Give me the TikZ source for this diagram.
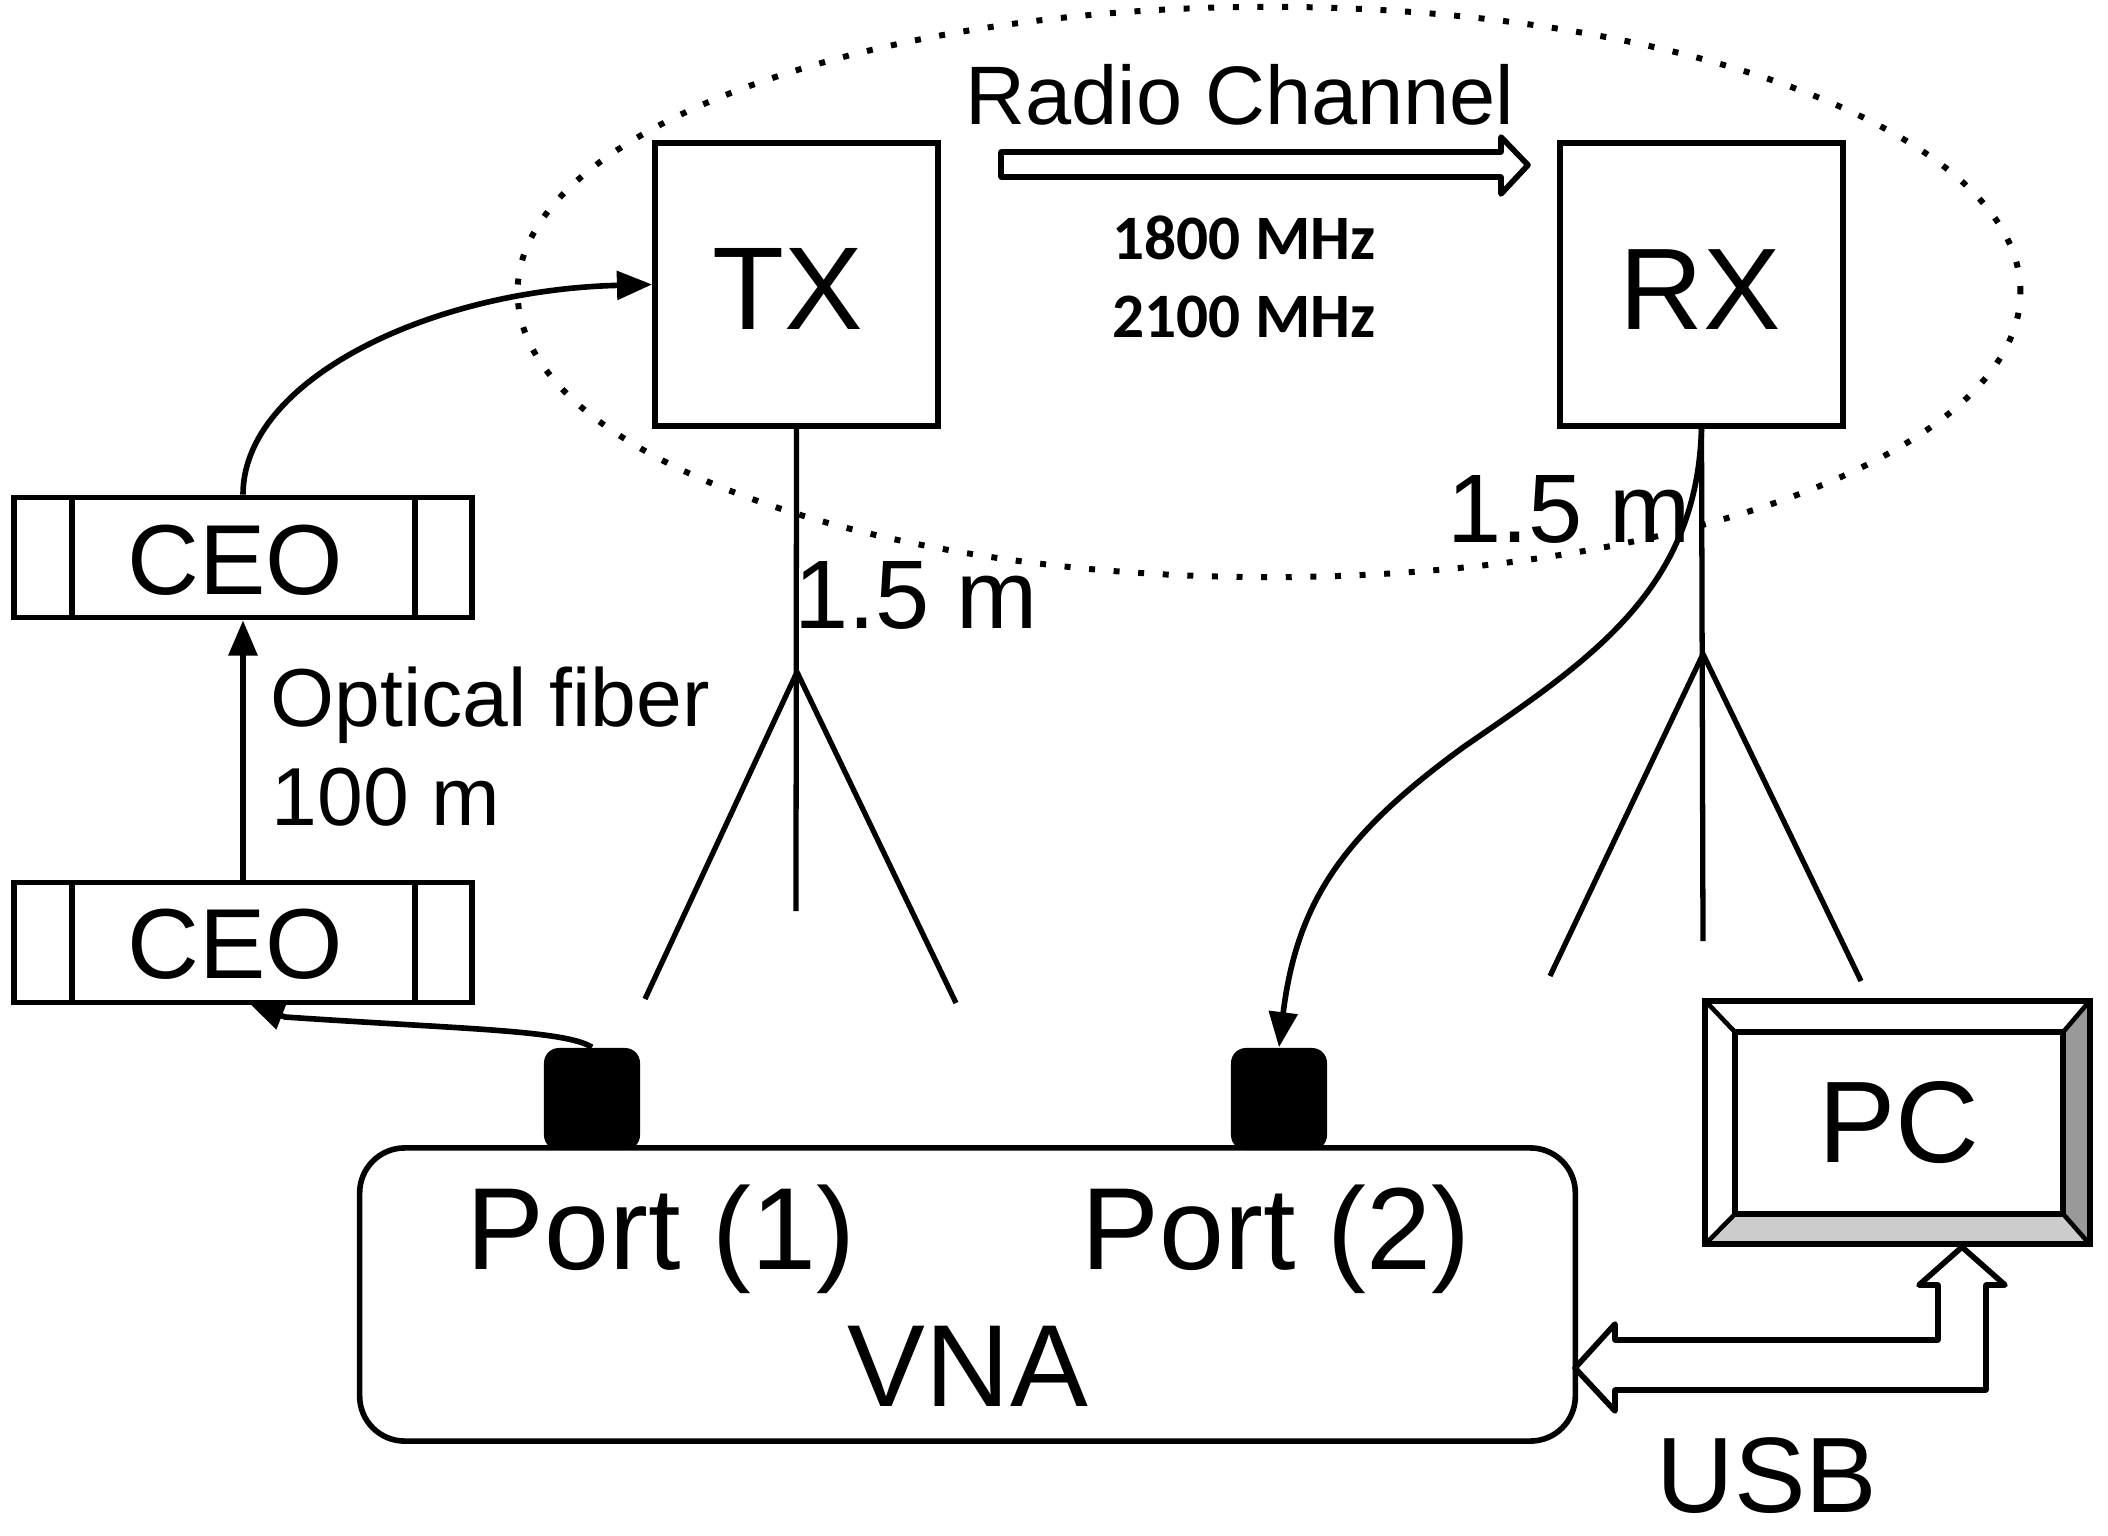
\documentclass[tikz,border=0pt]{standalone}
\usepackage{fontspec}
\setmainfont{Liberation Sans}
\newfontfamily\bandfont{Carlito}
\usetikzlibrary{arrows.meta,positioning,shapes.geometric}
\definecolor{RigInk}{HTML}{000000}
\definecolor{RigDark}{HTML}{999999}
\definecolor{RigLight}{HTML}{CCCCCC}
\tikzset{
  rig/box/.style={
    draw=RigInk, line width=1.6pt, inner sep=0pt
  },
  rig/antenna/.style={rig/box, minimum width=2.83cm, minimum height=2.83cm},
  rig/ceo/.style={rig/box, minimum width=4.58cm, minimum height=1.2cm},
  rig/port/.style={fill=RigInk, inner sep=0pt, rounded corners=.15cm,
    minimum width=.96cm, minimum height=1.02cm},
  rig/label/.style={anchor=base, inner sep=0pt},
  rig/arrow/.style={
    -{Triangle[length=10pt,width=8pt]}, line width=1.6pt, draw=RigInk
  },
  rig/leg/.style={line width=1.5pt, draw=RigInk},
  rig/hollow/.style={line width=1.6pt, draw=RigInk, fill=white, line join=round}
}
\begin{document}
\begin{tikzpicture}[x=.01cm,y=-.01cm]
  \useasboundingbox (0,0) rectangle (2108,1536);
  \node[ellipse,draw=RigInk,line width=1.7pt,
    dash pattern=on 1.7pt off 5.3pt,inner sep=0pt,
    minimum width=15.02cm,minimum height=5.7cm] (zone) at (1269,292) {};
  \node[rig/antenna] (tx) at (796.5,284.5) {};
  \node[rig/antenna] (rx) at (1701.5,284.5) {};
  \node[rig/label,font=\fontsize{33.5}{37}\selectfont] (txtext) at (788,329) {TX};
  \node[rig/label,font=\fontsize{33}{36}\selectfont] (rxtext) at (1700,329) {RX};
  \node[rig/ceo] (ceotop) at (243,557.5) {};
  \node[rig/ceo] (ceobottom) at (243,942.5) {};
  \foreach \ceo in {ceotop,ceobottom} {
    \draw[line width=1.6pt] ([xshift=.61cm]\ceo.north west) -- ([xshift=.61cm]\ceo.south west);
    \draw[line width=1.6pt] ([xshift=-.6cm]\ceo.north east) -- ([xshift=-.6cm]\ceo.south east);
  }
  \node[rig/label,font=\fontsize{28.3}{31}\selectfont] (ceotoptext) at (235,594) {CEO};
  \node[rig/label,font=\fontsize{28.3}{31}\selectfont] (ceobottomtext) at (235,978) {CEO};
  \draw[rig/arrow] (ceobottom.north) -- (ceotop.south);
  \draw[rig/arrow] (ceotop.north) .. controls (243,380) and (430,290) .. (tx.west);
  \node[rig/label,anchor=base west,font=\fontsize{23.4}{26}\selectfont] (fibertext) at (270,726) {Optical fiber};
  \node[rig/label,anchor=base west,font=\fontsize{23.4}{26}\selectfont] (lengthtext) at (271,825) {100 m};

  \node[rig/box,rounded corners=.45cm,minimum width=12.15cm,minimum height=2.93cm] (vna) at (967.5,1294.5) {};
  \node[rig/port] (portone) at (592,1099) {};
  \node[rig/port] (porttwo) at (1279,1099) {};
  \node[rig/label,font=\fontsize{33.2}{36}\selectfont] (portonetext) at (661,1269) {Port (1)};
  \node[rig/label,font=\fontsize{33.2}{36}\selectfont] (porttwotext) at (1276,1269) {Port (2)};
  \node[rig/label,font=\fontsize{33.2}{36}\selectfont] (vnatext) at (968,1406) {VNA};
  \draw[rig/arrow] (portone.north) .. controls (565,1030) and (460,1029) .. (285,1017) -- (249,1003);
  \draw[rig/arrow] (rx.south) .. controls (1697,590) and (1590,660) .. (1465,746)
    .. controls (1345,833) and (1297,900) .. (porttwo.north);

  \coordinate (txapex) at (797,672);
  \coordinate (rxapex) at (1703,654);
  \draw[rig/leg] (tx.south) -- (796,911);
  \draw[rig/leg] (rx.south) -- (1703,941);
  \draw[rig/leg] (645,999) -- (txapex) -- (956,1003);
  \draw[rig/leg] (1550,976) -- (rxapex) -- (1861,981);
  \node[rig/label,font=\fontsize{27.7}{31}\selectfont] (txheight) at (916,628) {1.5 m};
  \node[rig/label,font=\fontsize{27.7}{31}\selectfont] (rxheight) at (1569,542) {1.5 m};

  \node[minimum width=3.83cm,minimum height=2.42cm,inner sep=0pt] (pcframe) at (1897.5,1122.5) {};
  \node[minimum width=3.28cm,minimum height=1.82cm,inner sep=0pt] (pcinner) at (1899,1123) {};
  \fill[RigDark] (pcframe.north east) -- (pcinner.north east) -- (pcinner.south east) -- (pcframe.south east) -- cycle;
  \fill[RigLight] (pcframe.south west) -- (pcinner.south west) -- (pcinner.south east) -- (pcframe.south east) -- cycle;
  \foreach \corner in {north west,north east,south west,south east}
    \draw[line width=1.3pt] (pcframe.\corner) -- (pcinner.\corner);
  \draw[line width=1.7pt] (pcframe.north west) rectangle (pcframe.south east);
  \node[rig/box,minimum width=3.28cm,minimum height=1.82cm,font=\fontsize{33}{36}\selectfont] (pc) at (1899,1123) {PC};

  \coordinate (usbvna) at (1575,1368);
  \coordinate (usbpc) at (1962,1247);
  \draw[rig/hollow] (usbvna) -- ++(40,-44) -- ++(0,16) -- (1938,1340) -- (1938,1285) -- (1919,1285)
    -- (usbpc) -- (2005,1285) -- (1986,1285) -- (1986,1390) -- (1615,1390) -- (1615,1411) -- cycle;
  \node[rig/label,font=\fontsize{30.5}{33}\selectfont] (usbtext) at (1767,1512) {USB};

  \coordinate (radiostart) at (1001,165);
  \coordinate (radioend) at (1528,165);
  \draw[rig/hollow] (radiostart) -- ++(0,-13) -- (1501,152) -- (1501,137) -- (radioend)
    -- (1501,194) -- (1501,177) -- (1001,177) -- cycle;
  \node[rig/label,font=\fontsize{23.6}{26}\selectfont] (radiotext) at (1240,124) {Radio Channel};
  \node[rig/label,font=\bandfont\bfseries\fontsize{18}{20}\selectfont] (bandone) at (1244,259) {1800 MHz};
  \node[rig/label,font=\bandfont\bfseries\fontsize{18}{20}\selectfont] (bandtwo) at (1244,337) {2100 MHz};
\end{tikzpicture}
\end{document}
